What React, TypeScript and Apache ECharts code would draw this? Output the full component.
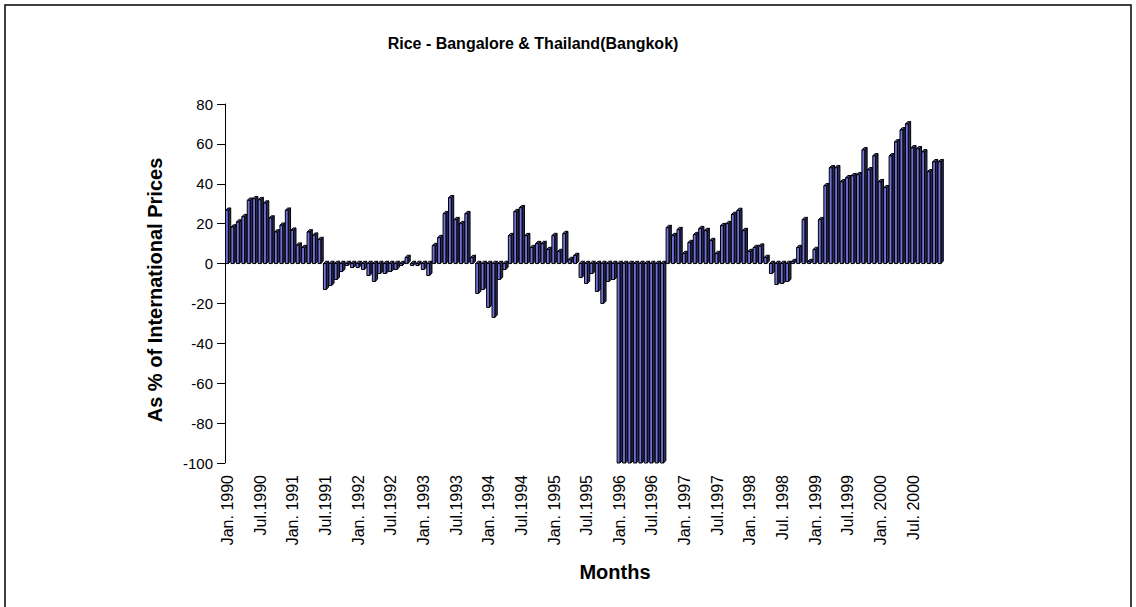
import React, { useEffect, useRef } from "react";
import * as echarts from "echarts";

// Tick labels shown every 6 months on the category axis
const tickLabels = [
  "Jan. 1990", "Jul.1990", "Jan. 1991", "Jul.1991", "Jan. 1992", "Jul.1992",
  "Jan. 1993", "Jul.1993", "Jan. 1994", "Jul.1994", "Jan. 1995", "Jul.1995",
  "Jan. 1996", "Jul.1996", "Jan. 1997", "Jul.1997", "Jan. 1998", "Jul. 1998",
  "Jan. 1999", "Jul.1999", "Jan. 2000", "Jul. 2000",
];

// Monthly values, Jan 1990 .. Dec 2000 (as % of international prices)
const values1990 = [26.7, 18.3, 20.8, 23.5, 31.7, 32.5, 32, 30.3, 22.8, 15.8, 19.2, 26.7];
const values1991 = [16.7, 9.2, 8, 15.8, 14.2, 12, -13, -11, -8, -4, -1, -2];
const values1992 = [-2, -3, -6, -9, -5, -5, -4, -3, -1, 3, -1, -1];
const values1993 = [-3, -6, 9, 13, 25, 33, 22, 20, 25, 3, -15, -13];
const values1994 = [-22, -27, -8, -3, 14, 26, 28, 14, 8, 10, 10, 7];
const values1995 = [14, 6, 15, 2, 4, -7, -10, -5, -14, -20, -9, -8];
const values1996 = [-100, -100, -100, -100, -100, -100, -100, -100, -100, 18, 14, 17];
const values1997 = [5, 10.5, 14.5, 17.5, 16.5, 11.5, 5, 19, 20, 24.6, 26.6, 16.5];
const values1998 = [6, 8, 8.7, 3, -5, -10.5, -10, -9, 1, 8, 22, 1];
const values1999 = [7, 22, 39, 48, 48, 41, 43, 44, 44.5, 57, 47, 54];
const values2000 = [41, 38, 54, 61, 67, 70, 58, 57.5, 56, 46, 51, 51];

const values = [
  ...values1990, ...values1991, ...values1992, ...values1993,
  ...values1994, ...values1995, ...values1996, ...values1997,
  ...values1998, ...values1999, ...values2000,
];

const categories = values.map((_, i) => String(i));

const FONT = "'Liberation Sans', Arial, Helvetica, sans-serif";
const FRONT = "#7272DC";
const SIDE = "#2C2C5E";
const TOP = "#4A4A96";

export default function App() {
  const ref = useRef<HTMLDivElement>(null);

  useEffect(() => {
    const chart = echarts.init(ref.current!, null, { renderer: "svg" });

    const renderItem = (params: any, api: any) => {
      const idx = api.value(0);
      const v = api.value(1);
      const base = api.coord([idx, 0]);
      const end = api.coord([idx, v]);
      const band = api.size([1, 0])[0];
      const x0 = base[0] - band / 2 + 0.5;
      const fw = band * 0.52;
      const dx = band * 0.44;
      const dy = band * 0.42;
      const yTop = Math.min(base[1], end[1]);
      const yBot = Math.max(base[1], end[1]);
      const st = { stroke: "#000", lineWidth: 1 };
      return {
        type: "group",
        children: [
          {
            type: "polygon",
            shape: {
              points: [
                [x0 + fw, yTop], [x0 + fw + dx, yTop - dy],
                [x0 + fw + dx, yBot - dy], [x0 + fw, yBot],
              ],
            },
            style: { fill: SIDE, ...st },
          },
          {
            type: "polygon",
            shape: {
              points: [
                [x0, yTop], [x0 + dx, yTop - dy],
                [x0 + fw + dx, yTop - dy], [x0 + fw, yTop],
              ],
            },
            style: { fill: TOP, ...st },
          },
          {
            type: "rect",
            shape: { x: x0, y: yTop, width: fw, height: yBot - yTop },
            style: { fill: FRONT, ...st },
          },
        ],
      };
    };

    chart.setOption({
      animation: false,
      backgroundColor: "#ffffff",
      grid: { left: 225, right: 193, top: 104, bottom: 144, containLabel: false },
      xAxis: {
        type: "category",
        data: categories,
        boundaryGap: true,
        axisLine: { show: false, onZero: false },
        axisTick: { show: false },
        splitLine: { show: false },
        axisLabel: {
          interval: 5,
          rotate: 90,
          fontSize: 16,
          color: "#000",
          fontFamily: FONT,
          margin: 12,
          formatter: (_v: string, i: number) => tickLabels[Math.round(i / 6)] ?? "",
        },
      },
      yAxis: {
        type: "value",
        min: -100,
        max: 80,
        interval: 20,
        axisLine: { show: true, lineStyle: { color: "#000", width: 1 } },
        axisTick: { show: true, length: 8, lineStyle: { color: "#000", width: 1 } },
        splitLine: { show: false },
        axisLabel: { fontSize: 15, color: "#000", fontFamily: FONT, margin: 12 },
      },
      graphic: [
        {
          type: "rect",
          z: -10,
          shape: { x: 5, y: 5, width: 1126, height: 640 },
          style: { fill: "none", stroke: "#000", lineWidth: 1.5 },
        },
        {
          type: "text",
          x: 533,
          y: 43,
          style: {
            text: "Rice - Bangalore & Thailand(Bangkok)",
            fontSize: 16,
            fontWeight: "bold",
            fontFamily: FONT,
            fill: "#000",
            align: "center",
            verticalAlign: "middle",
          },
        },
        {
          type: "text",
          x: 155,
          y: 290,
          rotation: Math.PI / 2,
          style: {
            text: "As % of International Prices",
            fontSize: 20,
            fontWeight: "bold",
            fontFamily: FONT,
            fill: "#000",
            align: "center",
            verticalAlign: "middle",
          },
        },
        {
          type: "text",
          x: 615,
          y: 572,
          style: {
            text: "Months",
            fontSize: 20,
            fontWeight: "bold",
            fontFamily: FONT,
            fill: "#000",
            align: "center",
            verticalAlign: "middle",
          },
        },
      ],
      series: [
        {
          type: "custom",
          data: values.map((v, i) => [i, v]),
          encode: { x: 0, y: 1 },
          renderItem,
          clip: false,
        },
      ],
    });

    return () => chart.dispose();
  }, []);

  return (
    <div
      ref={ref}
      style={{ position: "fixed", left: 0, top: 0, width: 1136, height: 607 }}
    />
  );
}
